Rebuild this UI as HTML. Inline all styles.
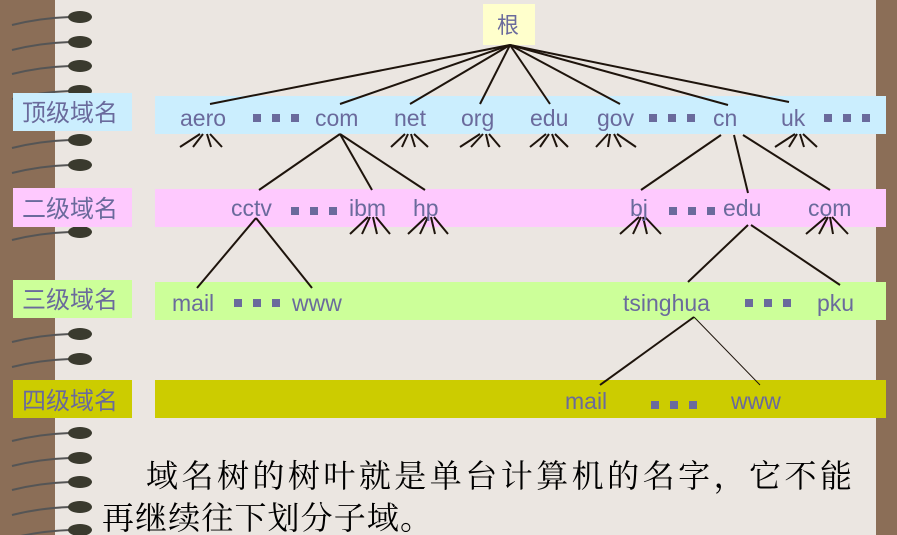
<!DOCTYPE html>
<html><head><meta charset="utf-8"><style>
html,body{margin:0;padding:0;}
body{width:897px;height:535px;overflow:hidden;background:#ebe6e1;position:relative;}
svg{position:absolute;left:0;top:0;}
</style></head><body>
<svg width="897" height="535" viewBox="0 0 897 535" xmlns="http://www.w3.org/2000/svg">
<rect x="0" y="0" width="897" height="535" fill="#ebe6e1"/>
<rect x="0" y="0" width="55" height="535" fill="#8b6e57"/>
<rect x="876" y="0" width="21" height="535" fill="#8b6e57"/>
<g stroke="#555" fill="none" stroke-width="2">
<path d="M12 25 Q40 18 70 17"/><path d="M12 50 Q40 43 70 42"/><path d="M12 74 Q40 67 70 66"/><path d="M12 99 Q40 92 70 91"/><path d="M12 148 Q40 141 70 140"/><path d="M12 173 Q40 166 70 165"/><path d="M12 240 Q40 233 70 232"/><path d="M12 342 Q40 335 70 334"/><path d="M12 367 Q40 360 70 359"/><path d="M12 441 Q40 434 70 433"/><path d="M12 466 Q40 459 70 458"/><path d="M12 490 Q40 483 70 482"/><path d="M12 515 Q40 508 70 507"/><path d="M12 538 Q40 531 70 530"/>
</g>
<g fill="#3a3a2e">
<ellipse cx="80" cy="17" rx="12" ry="6"/><ellipse cx="80" cy="42" rx="12" ry="6"/><ellipse cx="80" cy="66" rx="12" ry="6"/><ellipse cx="80" cy="91" rx="12" ry="6"/><ellipse cx="80" cy="140" rx="12" ry="6"/><ellipse cx="80" cy="165" rx="12" ry="6"/><ellipse cx="80" cy="232" rx="12" ry="6"/><ellipse cx="80" cy="334" rx="12" ry="6"/><ellipse cx="80" cy="359" rx="12" ry="6"/><ellipse cx="80" cy="433" rx="12" ry="6"/><ellipse cx="80" cy="458" rx="12" ry="6"/><ellipse cx="80" cy="482" rx="12" ry="6"/><ellipse cx="80" cy="507" rx="12" ry="6"/><ellipse cx="80" cy="530" rx="12" ry="6"/>
</g>
<rect x="155" y="96" width="731" height="38" fill="#cbeefe"/>
<rect x="155" y="189" width="731" height="38" fill="#fec9fe"/>
<rect x="155" y="282" width="731" height="38" fill="#ccff99"/>
<rect x="155" y="380" width="731" height="38" fill="#cccc00"/>
<rect x="13" y="93" width="119" height="38" fill="#cbeefe"/>
<rect x="13" y="188" width="119" height="39" fill="#fec9fe"/>
<rect x="13" y="280" width="119" height="38" fill="#ccff99"/>
<rect x="13" y="380" width="119" height="38" fill="#cccc00"/>
<rect x="483" y="4" width="52" height="41" fill="#ffffcc"/>
<g stroke="#1e140c" stroke-width="2" fill="none">
<line x1="510" y1="45" x2="210" y2="104"/><line x1="510" y1="45" x2="340" y2="104"/><line x1="510" y1="45" x2="410" y2="104"/><line x1="510" y1="45" x2="480" y2="104"/><line x1="510" y1="45" x2="550" y2="104"/><line x1="510" y1="45" x2="620" y2="104"/><line x1="510" y1="45" x2="728" y2="105"/><line x1="510" y1="45" x2="789" y2="102"/>
<line x1="340" y1="134" x2="259" y2="190"/><line x1="340" y1="134" x2="372" y2="190"/><line x1="340" y1="134" x2="425" y2="190"/>
<line x1="721" y1="135" x2="641" y2="190"/><line x1="734" y1="135" x2="748" y2="193"/><line x1="743" y1="135" x2="830" y2="190"/>
<line x1="256" y1="218" x2="197" y2="288"/><line x1="256" y1="218" x2="312" y2="288"/>
<line x1="748" y1="225" x2="688" y2="282"/><line x1="751" y1="225" x2="840" y2="285"/>
<line x1="694" y1="317" x2="600" y2="385"/><line x1="694" y1="317" x2="760" y2="385" stroke-width="1"/>
</g>
<g stroke="#1e140c" stroke-width="2" fill="none">
<path d="M200 134 L180 147 M203 134 L193 147 M207 134 L211 147 M210 134 L222 147"/>
<path d="M405 134 L391 147 M408 134 L402 147 M411 134 L415 147 M414 134 L428 147"/>
<path d="M480 134 L460 147 M483 134 L471 147 M486 134 L489 147 M489 134 L500 147"/>
<path d="M546 134 L530 147 M549 134 L540 147 M552 134 L557 147 M555 134 L568 147"/>
<path d="M608 134 L596 147 M610 134 L608 147 M614 134 L621 147 M617 134 L636 147"/>
<path d="M795 134 L775 147 M797 134 L789 147 M800 134 L804 147 M803 134 L817 147"/>
<path d="M368 217 L350 234 M370 217 L362 234 M373 217 L377 234 M376 217 L390 234"/>
<path d="M426 217 L408 234 M428 217 L420 234 M431 217 L435 234 M434 217 L448 234"/>
<path d="M639 217 L620 234 M641 217 L633 234 M643 217 L647 234 M645 217 L661 234"/>
<path d="M826 217 L806 234 M828 217 L819 234 M830 217 L833 234 M832 217 L848 234"/>
</g>
<g fill="#6a6a9c" font-family="'Liberation Sans', sans-serif" font-size="23">
<text x="180" y="126">aero</text><text x="315" y="126">com</text><text x="394" y="126">net</text><text x="461" y="126">org</text><text x="530" y="126">edu</text><text x="597" y="126">gov</text><text x="713" y="126">cn</text><text x="781" y="126">uk</text>
<text x="231" y="216">cctv</text><text x="349" y="216">ibm</text><text x="413" y="216">hp</text><text x="630" y="216">bj</text><text x="723" y="216">edu</text><text x="808" y="216">com</text>
<text x="172" y="311">mail</text><text x="292" y="311">www</text><text x="623" y="311">tsinghua</text><text x="817" y="311">pku</text>
<text x="565" y="409">mail</text><text x="731" y="409">www</text>
</g>
<g fill="#6a6a9c">
<rect x="253" y="114" width="8" height="8"/><rect x="272" y="114" width="8" height="8"/><rect x="291" y="114" width="8" height="8"/>
<rect x="649" y="114" width="8" height="8"/><rect x="668" y="114" width="8" height="8"/><rect x="687" y="114" width="8" height="8"/>
<rect x="824" y="114" width="8" height="8"/><rect x="843" y="114" width="8" height="8"/><rect x="862" y="114" width="8" height="8"/>
<rect x="291" y="207" width="8" height="8"/><rect x="310" y="207" width="8" height="8"/><rect x="329" y="207" width="8" height="8"/>
<rect x="669" y="207" width="8" height="8"/><rect x="688" y="207" width="8" height="8"/><rect x="707" y="207" width="8" height="8"/>
<rect x="234" y="299" width="8" height="8"/><rect x="253" y="299" width="8" height="8"/><rect x="272" y="299" width="8" height="8"/>
<rect x="745" y="299" width="8" height="8"/><rect x="764" y="299" width="8" height="8"/><rect x="783" y="299" width="8" height="8"/>
<rect x="651" y="401" width="8" height="8"/><rect x="670" y="401" width="8" height="8"/><rect x="689" y="401" width="8" height="8"/>
</g>
<g fill="#6a6a9c" font-family="'Liberation Sans','Noto Sans CJK SC',sans-serif" font-size="24">
<text x="497" y="33" font-size="22">根</text>
<text x="22" y="121">顶级域名</text>
<text x="22" y="217">二级域名</text>
<text x="22" y="308">三级域名</text>
<text x="22" y="409">四级域名</text>
</g>
<g fill="#000" font-family="'Liberation Serif','Noto Serif CJK SC',serif" font-size="32">
<text x="146" y="487" textLength="706" lengthAdjust="spacing">域名树的树叶就是单台计算机的名字，它不能</text>
<text x="102" y="529" textLength="330" lengthAdjust="spacing">再继续往下划分子域。</text>
</g>
</svg>
</body></html>
